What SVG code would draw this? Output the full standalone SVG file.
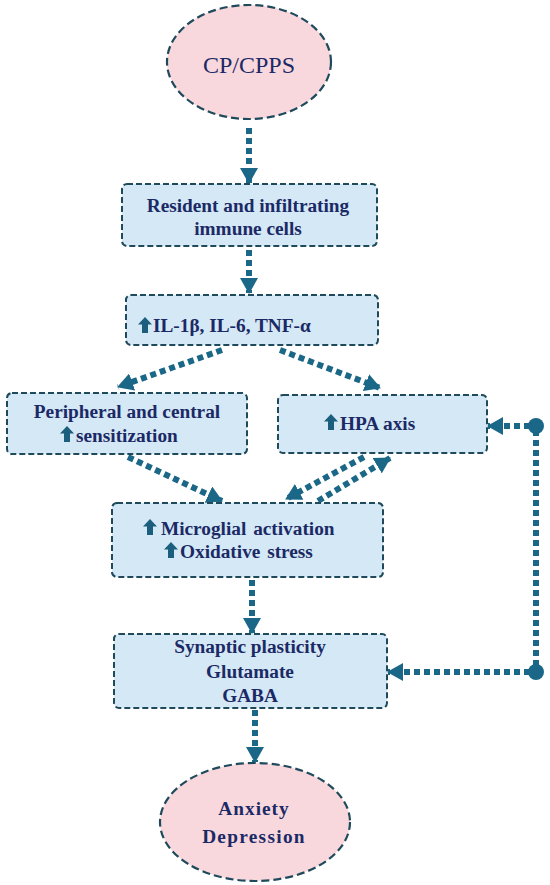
<svg xmlns="http://www.w3.org/2000/svg" xmlns:xlink="http://www.w3.org/1999/xlink" width="550" height="885" viewBox="0 0 550 885">
<style>
.box{fill:#d5e8f5;stroke:#1f4a5c;stroke-width:2;stroke-dasharray:6 3}
.ell{fill:#f9d8dd;stroke:#1f4a5c;stroke-width:2.2;stroke-dasharray:8 4}
.t{font-family:"Liberation Serif","Times New Roman",serif;font-weight:bold;font-size:19.3px;fill:#1b2a66}
.c{text-anchor:middle}
.con{fill:none;stroke:#1b6787;stroke-width:6;stroke-dasharray:6 4}
.ic{fill:#1b5e7e}
</style>
<defs>
<marker id="ah" markerUnits="userSpaceOnUse" viewBox="0 0 16 18" markerWidth="16" markerHeight="18" refX="15" refY="9" orient="auto">
<path d="M0,0 L16,9 L0,18 z" fill="#1b6787"/>
</marker>
<path id="up" d="M0,0 L7,7.5 L3,7.5 L3,16 L-3,16 L-3,7.5 L-7,7.5 Z"/>
</defs>
<rect width="550" height="885" fill="#ffffff"/>
<g id="connectors">
<line class="con" x1="249" y1="128" x2="249" y2="183" marker-end="url(#ah)"/>
<line class="con" x1="249" y1="250" x2="249" y2="293" marker-end="url(#ah)"/>
<line class="con" x1="222" y1="350" x2="118" y2="387" marker-end="url(#ah)"/>
<line class="con" x1="280" y1="350" x2="380" y2="388" marker-end="url(#ah)"/>
<line class="con" x1="128" y1="457" x2="222" y2="501" marker-end="url(#ah)"/>
<line class="con" x1="364" y1="457" x2="286" y2="499" marker-end="url(#ah)"/>
<line class="con" x1="318" y1="501" x2="390" y2="458" marker-end="url(#ah)"/>
<line class="con" x1="252" y1="580" x2="252" y2="633" marker-end="url(#ah)"/>
<line class="con" x1="255" y1="710" x2="255" y2="762" marker-end="url(#ah)"/>
<line class="con" x1="536" y1="430" x2="536" y2="668"/>
<line class="con" x1="530" y1="426" x2="488" y2="426" marker-end="url(#ah)"/>
<line class="con" x1="530" y1="672" x2="388" y2="672" marker-end="url(#ah)"/>
<circle cx="536" cy="426" r="8" fill="#1b6787"/>
<circle cx="536" cy="672" r="8" fill="#1b6787"/>
</g>
<g id="n-cpcpps">
<ellipse class="ell" cx="249" cy="62" rx="82" ry="57"/>
<text x="249" y="73" class="c" font-family="Liberation Serif, Times New Roman, serif" font-size="24" fill="#1b2a66">CP/CPPS</text>
</g>
<g id="n-immune">
<rect class="box" x="122" y="184" width="255" height="62" rx="5"/>
<text class="t c" x="248" y="212">Resident and infiltrating</text>
<text class="t c" x="248" y="235">immune cells</text>
</g>
<g id="n-cytokines">
<rect class="box" x="126" y="295" width="252" height="50" rx="5"/>
<use xlink:href="#up" class="ic" x="145" y="317"/>
<text class="t" x="153" y="332" font-size="20.5">IL-1β, IL-6, TNF-α</text>
</g>
<g id="n-sensitization">
<rect class="box" x="7" y="393" width="240" height="61" rx="5"/>
<text class="t c" x="127" y="418">Peripheral and central</text>
<use xlink:href="#up" class="ic" x="67" y="426"/>
<text class="t" x="76" y="442">sensitization</text>
</g>
<g id="n-hpa">
<rect class="box" x="278" y="395" width="209" height="58" rx="5"/>
<use xlink:href="#up" class="ic" x="331" y="414"/>
<text class="t" x="340" y="430" font-size="20.5">HPA axis</text>
</g>
<g id="n-microglia">
<rect class="box" x="112" y="503" width="271" height="74" rx="5"/>
<use xlink:href="#up" class="ic" x="150" y="519"/>
<text class="t" x="161" y="535" word-spacing="2">Microglial activation</text>
<use xlink:href="#up" class="ic" x="171" y="542"/>
<text class="t" x="180" y="558" word-spacing="2">Oxidative stress</text>
</g>
<g id="n-synaptic">
<rect class="box" x="114" y="634" width="273" height="74" rx="5"/>
<text class="t c" x="250" y="653">Synaptic plasticity</text>
<text class="t c" x="250" y="678">Glutamate</text>
<text class="t c" x="250" y="702">GABA</text>
</g>
<g id="n-anxiety">
<ellipse class="ell" cx="255" cy="822" rx="95" ry="59"/>
<text class="t c" x="254" y="815" font-size="25" letter-spacing="1">Anxiety</text>
<text class="t c" x="254" y="843" font-size="25" letter-spacing="1.3">Depression</text>
</g>
</svg>
